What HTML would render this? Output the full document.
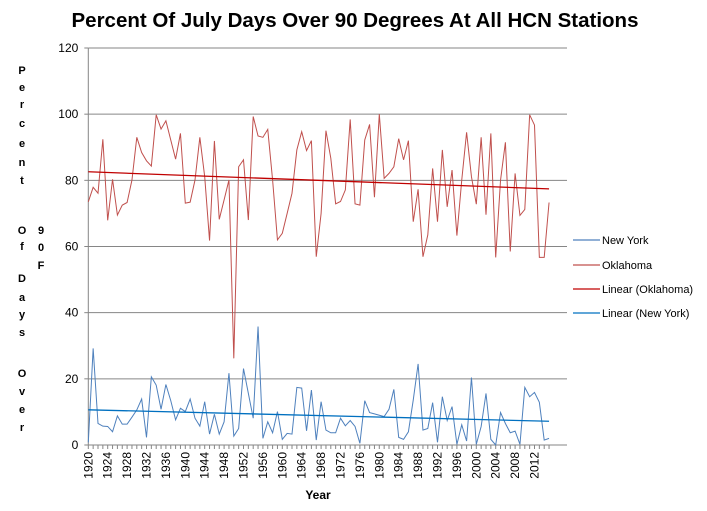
<!DOCTYPE html>
<html><head><meta charset="utf-8"><style>
body{margin:0;background:#fff;}
svg{display:block;font-family:"Liberation Sans",sans-serif;}
</style></head><body>
<svg id="chart" width="707" height="511">
<text x="355" y="27" text-anchor="middle" font-size="20.5" font-weight="bold">Percent Of July Days Over 90 Degrees At All HCN Stations</text>
<g id="grid"></g>
<g id="yaxis"></g>
<g id="xaxis"></g>
<g id="series"></g>
<g id="ytitle" font-size="11" font-weight="bold" text-anchor="middle"></g>
<text x="318" y="499" text-anchor="middle" font-size="12" font-weight="bold">Year</text>
<g id="legend" font-size="11"></g>
</svg>
<script>
const startYear = 1920;
const yTicks = [0,20,40,60,80,100,120];
const oklahoma = [73.5,77.9,76.1,92.4,67.9,80.3,69.5,72.5,73.3,80.1,93.0,88.4,85.9,84.3,99.8,95.5,98.0,92.2,86.4,94.2,73.1,73.4,80.1,93.0,81.1,61.8,91.9,68.2,74.1,80.1,26.2,84.1,86.2,68.0,99.3,93.4,93.0,95.4,80.1,62.0,64.0,70.0,76.1,89.2,94.7,89.0,92.0,56.9,70.0,95.0,86.7,72.9,73.6,77.1,98.4,72.9,72.5,92.2,96.9,74.9,100,80.6,82.1,84.1,92.6,86.2,92.0,67.5,77.3,56.9,63.5,83.6,67.5,89.2,72.0,83.1,63.3,80.1,94.5,81.1,72.8,93.0,69.6,94.2,56.7,80.1,91.5,58.5,82.1,69.4,71.2,99.8,96.7,56.7,56.7,73.3];
const newYork = [0.8,29.2,6.5,5.7,5.6,4.0,8.8,6.3,6.3,8.4,10.6,13.9,2.3,20.6,18.1,10.8,18.3,13.4,7.6,11.1,10.1,13.9,8.1,5.7,13.1,3.3,9.3,3.3,7.0,21.7,2.7,5.0,23.1,15.6,8.1,35.8,2.0,7.0,3.7,10.1,1.7,3.5,3.3,17.4,17.2,4.3,16.6,1.5,13.1,4.5,3.7,3.7,8.1,5.8,7.4,5.6,0.5,13.4,9.8,9.4,9.0,8.6,10.8,16.8,2.3,1.7,4.0,13.6,24.5,4.5,5.0,12.8,0.8,14.6,7.4,11.6,0.2,6.1,1.2,20.4,0.2,5.6,15.6,1.7,0,9.8,6.5,3.7,4.2,0.2,17.4,14.6,15.9,12.9,1.5,2.0];
const legendLabels = ["New York","Oklahoma","Linear (Oklahoma)","Linear (New York)"];

const NS="http://www.w3.org/2000/svg";
const X0=88.3, DX=4.85, Y0=445, PLOT_R=567, YMAX=120, YTOP=48;
function xs(i){return X0+i*DX;}
function ys(v){return Y0-(v/YMAX)*(Y0-YTOP);}
function mk(tag,attrs,parent){const e=document.createElementNS(NS,tag);for(const k in attrs)e.setAttribute(k,attrs[k]);parent.appendChild(e);return e;}
const grid=document.getElementById('grid'), yax=document.getElementById('yaxis'), xax=document.getElementById('xaxis'), ser=document.getElementById('series');
yTicks.forEach(t=>{
  const y=ys(t);
  if(t>0){const l=mk('line',{x1:X0,x2:PLOT_R,y1:y,y2:y,stroke:'#868686','stroke-width':1},grid);
  
  }
  const tk=mk('line',{x1:X0-4,x2:X0,y1:y,y2:y,stroke:'#868686'},yax);
  
  
  const tx=mk('text',{x:X0-10,y:y+4,'text-anchor':'end','font-size':12},yax);
  tx.textContent=t;
  
  
});
const yl=mk('line',{x1:X0,x2:X0,y1:YTOP,y2:Y0,stroke:'#868686'},yax);


const xl=mk('line',{x1:X0,x2:PLOT_R,y1:Y0,y2:Y0,stroke:'#868686'},xax);


const n=oklahoma.length;
for(let i=0;i<n;i++){
  const x=xs(i);
  const tk=mk('line',{x1:x,x2:x,y1:Y0,y2:Y0+4,stroke:'#868686'},xax);
  
  
  const yr=startYear+i;
  if((yr-startYear)%4===0 && yr<=2012){
    const tx=mk('text',{x:0,y:0,'text-anchor':'end','font-size':12,transform:`translate(${x+4},452) rotate(-90)`},xax);
    tx.textContent=yr;
    
    
  }
}
function line(data,color,name){
  const p=mk('polyline',{points:data.map((v,i)=>xs(i)+','+ys(v)).join(' '),fill:'none',stroke:color,'stroke-width':1},ser);
  
  
}
function trend(data,color,name){
  const m=data.length;let sx=0,sy=0,sxy=0,sxx=0;
  data.forEach((v,i)=>{sx+=i;sy+=v;sxy+=i*v;sxx+=i*i;});
  const b=(m*sxy-sx*sy)/(m*sxx-sx*sx), a=(sy-b*sx)/m;
  const l=mk('line',{x1:xs(0),y1:ys(a),x2:xs(m-1),y2:ys(a+b*(m-1)),stroke:color,'stroke-width':1.3},ser);
  
  
}
line(oklahoma,'#c0504d','oklahoma-line');
line(newYork,'#4f81bd','new-york-line');
trend(oklahoma,'#c00000','oklahoma-trendline');
trend(newYork,'#0070c0','new-york-trendline');
const lg=document.getElementById('legend');
const lcolors=['#4f81bd','#c0504d','#c00000','#0070c0'];
const lys=[240,265,289,313];
legendLabels.forEach((lab,k)=>{
  const l=mk('line',{x1:573,x2:600,y1:lys[k],y2:lys[k],stroke:lcolors[k],'stroke-width':1.3},lg);
  
  
  const t=mk('text',{x:602,y:lys[k]+4},lg);
  t.textContent=lab;
  
  
});
const yt=document.getElementById('ytitle');
const col1=[["P",70],["e",87],["r",104],["c",123],["e",143],["n",162],["t",180],["O",230],["f",246],["D",278],["a",297],["y",314],["s",332],["O",373],["v",391],["e",409],["r",427]];
const col2=[["9",230],["0",247],["F",265]];
col1.forEach(c=>{const t=mk('text',{x:22,y:c[1]+4},yt);t.textContent=c[0];});
col2.forEach(c=>{const t=mk('text',{x:41,y:c[1]+4},yt);t.textContent=c[0];});
</script>
</body></html>
